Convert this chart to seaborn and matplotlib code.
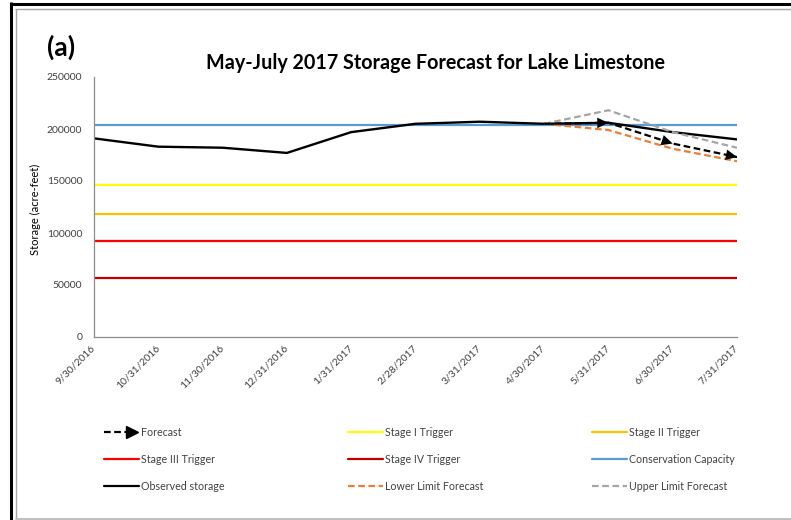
import numpy as np
import pandas as pd
import matplotlib
matplotlib.use("Agg")
import matplotlib.pyplot as plt
from matplotlib.lines import Line2D
from matplotlib.legend_handler import HandlerBase
import seaborn as sns

# ---------------- data ----------------
dates = ["9/30/2016", "10/31/2016", "11/30/2016", "12/31/2016", "1/31/2017",
         "2/28/2017", "3/31/2017", "4/30/2017", "5/31/2017", "6/30/2017", "7/31/2017"]
observed = [191000, 183000, 182000, 177000, 197000, 205000, 207000, 205000, 206000, 197000, 190000]

forecast_dates = ["4/30/2017", "5/31/2017", "6/30/2017", "7/31/2017"]
forecast = [205000, 206000, 186000, 173000]
lower_limit = [205000, 199000, 181000, 169000]
upper_limit = [205000, 218000, 197000, 182000]

stage_i = 146000
stage_ii = 118000
stage_iii = 92000
stage_iv = 57000
conservation = 204000

yticks = [0, 50000, 100000, 150000, 200000, 250000]

# ---------------- style ----------------
sns.set_style("white")
plt.rcParams["font.family"] = ["Lato", "DejaVu Sans"]
TXT = "#404040"

W, H = 791, 520
fig = plt.figure(figsize=(W / 100, H / 100), dpi=100)
ax = fig.add_axes([94 / W, 1 - 337 / H, (737 - 94) / W, 260 / H])

pos = {d: i for i, d in enumerate(dates)}
obs_df = pd.DataFrame({"x": [pos[d] for d in dates], "y": observed})
fx = [pos[d] for d in forecast_dates]

def hline(level, color):
    df = pd.DataFrame({"x": [0, len(dates) - 1], "y": [level, level]})
    sns.lineplot(data=df, x="x", y="y", ax=ax, color=color, linewidth=1.6)

hline(stage_i, "#FFFF00")
hline(stage_ii, "#FFC000")
hline(stage_iii, "#FF0000")
hline(stage_iv, "#C00000")
hline(conservation, "#5B9BD5")

sns.lineplot(data=obs_df, x="x", y="y", ax=ax, color="black", linewidth=1.7)

def dashed(vals, color):
    df = pd.DataFrame({"x": fx, "y": vals})
    sns.lineplot(data=df, x="x", y="y", ax=ax, color=color, linewidth=1.6)
    ax.lines[-1].set_dashes((3, 1.6))

dashed(lower_limit, "#ED7D31")
dashed(upper_limit, "#A5A5A5")
dashed(forecast, "black")
for i in range(1, len(fx)):
    ax.annotate("", xy=(fx[i], forecast[i]), xytext=(fx[i - 1], forecast[i - 1]),
                arrowprops=dict(arrowstyle="-|>,head_length=0.8,head_width=0.38",
                                color="black", lw=0, shrinkA=0, shrinkB=0,
                                mutation_scale=10))

ax.set_xlim(0, len(dates) - 1)
ax.set_ylim(0, 250000)
ax.set_xticks(range(len(dates)))
ax.set_xticklabels(dates, rotation=45, ha="right", va="center",
                   rotation_mode="anchor", fontsize=7.5, color=TXT)
ax.set_yticks(yticks)
ax.set_yticklabels([str(v) for v in yticks], fontsize=7.5, color=TXT)
ax.tick_params(axis="x", length=0, pad=7)
ax.tick_params(axis="y", length=0, pad=8.5)
ax.set_xlabel("")
ax.set_ylabel("Storage (acre-feet)", fontsize=8, color="black")
ax.yaxis.set_label_coords((41 - 94) / (737 - 94), 0.49)
for s in ["top", "right"]:
    ax.spines[s].set_visible(False)
for s in ["left", "bottom"]:
    ax.spines[s].set_color("#8C8C8C")
    ax.spines[s].set_linewidth(0.9)

# titles
fig.text(436 / W, 1 - 63 / H, "May-July 2017 Storage Forecast for Lake Limestone",
         ha="center", va="center", fontsize=14.2, fontweight="bold", color="black")
fig.text(61 / W, 1 - 47 / H, "(a)", ha="center", va="center",
         fontsize=19, fontweight="bold", color="black")

# legend
class ArrowHandler(HandlerBase):
    def create_artists(self, legend, orig, xdescent, ydescent, width, height, fontsize, trans):
        y = height / 2 - ydescent
        x0 = -xdescent
        x1 = width - xdescent
        ln = Line2D([x0, x1 - 8], [y, y], color="black", lw=1.6, dashes=(3, 1.6))
        hd = Line2D([x1 - 5], [y], marker=">", color="black", markersize=8, lw=0)
        ln.set_transform(trans)
        hd.set_transform(trans)
        return [ln, hd]

fc_handle = Line2D([], [], color="black")
def solid(c):
    return Line2D([], [], color=c, lw=1.6)
def dash(c):
    return Line2D([], [], color=c, lw=1.6, dashes=(3, 1.6))

columns = [
    (104, [fc_handle, solid("#FF0000"), solid("black")],
     ["Forecast", "Stage III Trigger", "Observed storage"]),
    (348, [solid("#FFFF00"), solid("#C00000"), dash("#ED7D31")],
     ["Stage I Trigger", "Stage IV Trigger", "Lower Limit Forecast"]),
    (592, [solid("#FFC000"), solid("#5B9BD5"), dash("#A5A5A5")],
     ["Stage II Trigger", "Conservation Capacity", "Upper Limit Forecast"]),
]
for x, hs, ls in columns:
    leg = fig.legend(handles=hs, labels=ls, loc="upper left",
                     bbox_to_anchor=(x / W, 1 - 427 / H), frameon=False,
                     fontsize=7.7, handlelength=3.3, handletextpad=0.2,
                     labelspacing=1.5, borderpad=0, borderaxespad=0,
                     handler_map={fc_handle: ArrowHandler()})
    for t in leg.get_texts():
        t.set_color(TXT)

# frame
def fline(xs, ys, color, lw):
    fig.add_artist(Line2D([x / W for x in xs], [1 - y / H for y in ys],
                          transform=fig.transFigure, color=color, lw=lw,
                          solid_capstyle="butt"))

fline([11, 11], [2, 520], "black", 2.2)
fline([10, 791], [3.5, 3.5], "black", 2.2)
fline([15.5, 15.5], [8.5, 519], "#A6A6A6", 1.0)
fline([15, 791], [8.5, 8.5], "#A6A6A6", 1.0)
fline([15, 791], [518.5, 518.5], "#BFBFBF", 2.2)

fig.savefig("out.png", dpi=100)
